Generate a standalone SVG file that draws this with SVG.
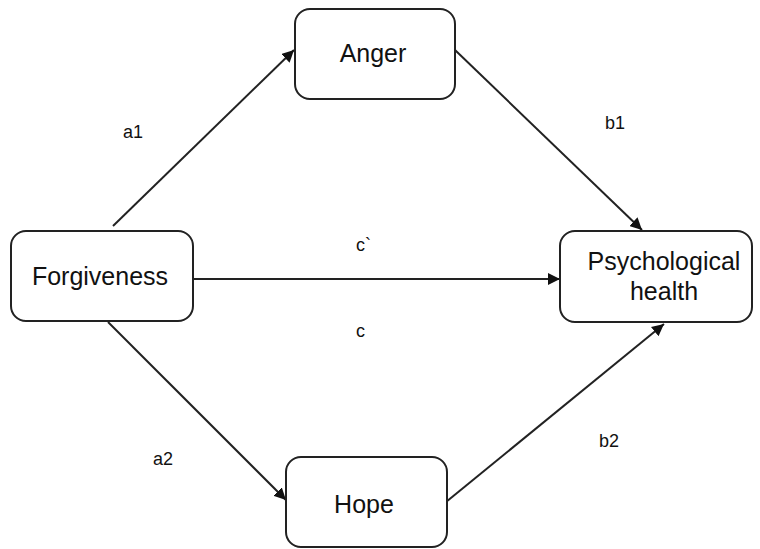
<svg xmlns="http://www.w3.org/2000/svg" width="760" height="549" viewBox="0 0 760 549">
<defs>
<marker id="arr" viewBox="0 0 10 10" refX="10" refY="5" markerWidth="6" markerHeight="6" orient="auto" markerUnits="strokeWidth">
<path d="M0,0 L10,5 L0,10 z" fill="#111"/>
</marker>
<style>
.box{fill:#fff;stroke:#222;stroke-width:2}
.nt{font-family:"Liberation Sans",Arial,sans-serif;font-size:25px;fill:#111;text-anchor:middle}
.lb{font-family:"Liberation Sans",Arial,sans-serif;font-size:18px;fill:#111}
.cn{stroke:#222;stroke-width:2;fill:none;marker-end:url(#arr)}
</style>
</defs>
<rect width="760" height="549" fill="#fff"/>
<g id="connectors">
<line class="cn" x1="113" y1="226" x2="294" y2="50"/>
<line class="cn" x1="455" y1="50" x2="642" y2="230"/>
<line class="cn" x1="193" y1="279" x2="560" y2="279"/>
<line class="cn" x1="108" y1="322" x2="286" y2="500"/>
<line class="cn" x1="446" y1="502" x2="664" y2="324"/>
</g>
<g id="labels">
<text class="lb" x="123" y="138">a1</text>
<text class="lb" x="605" y="129">b1</text>
<text class="lb" x="356" y="251">c`</text>
<text class="lb" x="356" y="337">c</text>
<text class="lb" x="153" y="465">a2</text>
<text class="lb" x="599" y="447">b2</text>
</g>
<g id="anger">
<rect class="box" x="295" y="9" width="160" height="90" rx="15"/>
<text class="nt" x="373" y="62">Anger</text>
</g>
<g id="forgiveness">
<rect class="box" x="11" y="231" width="182" height="90" rx="15"/>
<text class="nt" x="100" y="285">Forgiveness</text>
</g>
<g id="psychological-health">
<rect class="box" x="560" y="231" width="192" height="91" rx="15"/>
<text class="nt" x="664" y="270">Psychological</text>
<text class="nt" x="664" y="300">health</text>
</g>
<g id="hope">
<rect class="box" x="286" y="457" width="161" height="90" rx="15"/>
<text class="nt" x="364" y="513">Hope</text>
</g>
</svg>
